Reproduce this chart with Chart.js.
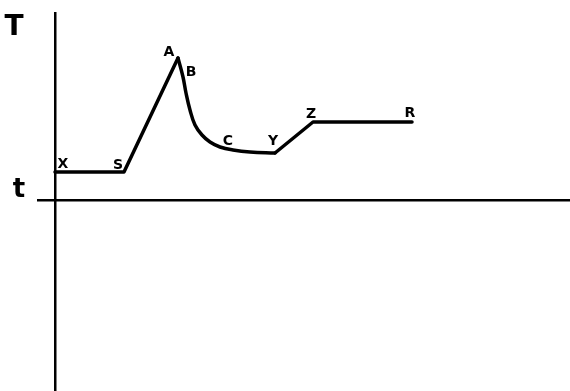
<!DOCTYPE html>
<html>
<head>
<meta charset="utf-8">
<script src="https://cdn.jsdelivr.net/npm/chart.js@4/dist/chart.umd.min.js"></script>
<style>
  html, body { margin: 0; padding: 0; background: #fff; }
  canvas { display: block; }
</style>
</head>
<body>
<canvas id="myChart" width="570" height="391"></canvas>
<script>
// curve pieces, in units measured from the axis crossing
const riseX = [0, 69, 123];
const riseY = [28, 28, 142];
const coolX = [123, 128, 131, 135, 140, 147, 155, 165, 178, 195, 220];
const coolY = [142, 123, 107, 90, 75, 65, 58, 53, 50, 48, 47];
const finalX = [220, 258, 357];
const finalY = [47, 78, 78];

// letters written along the curve
const pointNames = ["X", "S", "A", "B", "C", "Y", "Z", "R"];
const pointX = [8, 63, 114, 136, 173, 218, 256, 355];
const pointY = [36, 35, 148, 128, 59, 59, 86, 87];

const toPoints = (xs, ys) => xs.map((x, i) => ({ x: x, y: ys[i] }));

const lineStyle = {
    borderColor: "#000",
    borderWidth: 3.5,
    pointRadius: 0,
    fill: false,
    borderCapStyle: "round",
    borderJoinStyle: "round",
};

const letters = {
    id: "letters",
    afterDatasetsDraw(chart) {
        const { ctx, scales } = chart;
        ctx.save();
        ctx.fillStyle = "#000";
        ctx.textAlign = "center";
        ctx.textBaseline = "middle";
        ctx.font = "bold 14px 'DejaVu Sans'";
        pointNames.forEach((name, i) => {
            ctx.fillText(name, scales.x.getPixelForValue(pointX[i]), scales.y.getPixelForValue(pointY[i]));
        });
        // axis names
        ctx.font = "bold 28px 'DejaVu Sans'";
        ctx.fillText("T", 14, 28);
        ctx.font = "bold 26px 'DejaVu Sans'";
        ctx.fillText("t", 19, 190);
        ctx.restore();
    },
};

const zeroOnly = (axis) => { axis.ticks = [{ value: 0 }]; };
const zeroLine = (c) => (c.tick && c.tick.value === 0 ? "#000" : "transparent");

const ctx = document.getElementById("myChart").getContext("2d");
const myChart = new Chart(ctx, {
    type: "line",
    data: {
        datasets: [
            { ...lineStyle, data: toPoints(riseX, riseY), tension: 0 },
            { ...lineStyle, data: toPoints(coolX, coolY), tension: 0.4 },
            { ...lineStyle, data: toPoints(finalX, finalY), tension: 0 },
        ],
    },
    options: {
        responsive: false,
        animation: false,
        plugins: {
            legend: { display: false },
            tooltip: { enabled: false },
        },
        scales: {
            x: {
                type: "linear",
                min: -18,
                max: 515,
                afterBuildTicks: zeroOnly,
                ticks: { display: false },
                border: { display: false },
                grid: { drawTicks: false, lineWidth: 2.5, color: zeroLine },
            },
            y: {
                type: "linear",
                min: -191,
                max: 188,
                afterBuildTicks: zeroOnly,
                ticks: { display: false },
                border: { display: false },
                grid: { drawTicks: false, lineWidth: 2.5, color: zeroLine },
            },
        },
        layout: {
            padding: { top: 12, right: 0, bottom: 0, left: 37 },
        },
    },
    plugins: [letters],
});
</script>
</body>
</html>
